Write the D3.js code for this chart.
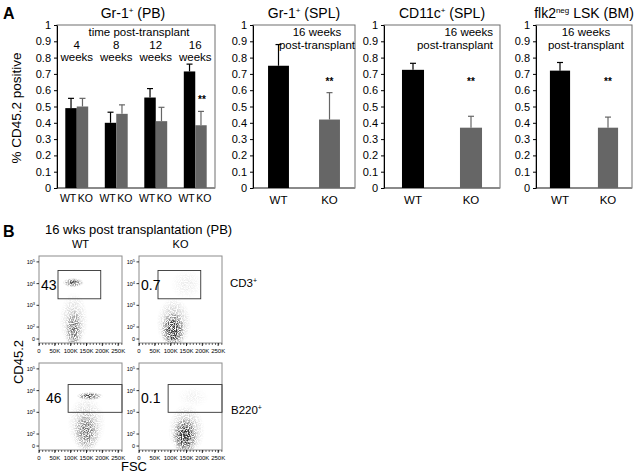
<!DOCTYPE html>
<html><head><meta charset="utf-8">
<script src="https://cdn.jsdelivr.net/npm/d3@7"></script>
<style>
body{margin:0;background:#fff}
svg text{font-family:"Liberation Sans",Arial,Helvetica,sans-serif;fill:#000}
</style>
</head><body>
<svg id="c" width="640" height="474" viewBox="0 0 640 474"></svg>
<script>
// ---------------- DATA ----------------
const genotypes = ["WT", "KO"];
const timepoints = ["4", "8", "12", "16"];
const pbWT = [0.49, 0.40, 0.555, 0.715];
const pbWTerr = [0.06, 0.065, 0.055, 0.045];
const pbKO = [0.50, 0.455, 0.41, 0.385];
const pbKOerr = [0.05, 0.055, 0.085, 0.085];
const pbSig = ["", "", "", "**"];
const splGrMeans = [0.75, 0.42];
const splGrErr = [0.13, 0.165];
const splCdMeans = [0.725, 0.37];
const splCdErr = [0.04, 0.07];
const bmLskMeans = [0.72, 0.37];
const bmLskErr = [0.05, 0.065];
const sigLabels = ["", "**"];
const yTicks = [0, 0.1, 0.2, 0.3, 0.4, 0.5, 0.6, 0.7, 0.8, 0.9, 1];

// flow cytometry panel
const flowCols = ["WT", "KO"];
const flowRows = ["CD3", "B220"];
const cd3Pct = ["43", "0.7"];
const b220Pct = ["46", "0.1"];
const gateCD3 = [60000, 195000, 2000, 40000];     // FSC min, FSC max, CD45.2 min, CD45.2 max
const gateB220 = [92000, 262143, 1000, 19000];
const fscTicks = [0, 50000, 100000, 150000, 200000, 250000];
const fscTickLabels = ["0", "50K", "100K", "150K", "200K", "250K"];
const cd45Ticks = [0, 100, 1000, 10000, 100000];
const cd45TickExp = ["", "2", "3", "4", "5"];
// event clouds: [FSC centre, CD45.2 centre, FSC spread, CD45.2 spread (decades), density]
const wtCD3Clouds = [[108000, 11000, 34000, 0.22, 0.75], [110000, 70, 28000, 0.95, 0.55], [110000, 200, 45000, 1.3, 0.22]];
const koCD3Clouds = [[108000, 70, 38000, 0.85, 0.95], [110000, 150, 55000, 1.2, 0.3], [150000, 9000, 50000, 0.7, 0.08]];
const wtB220Clouds = [[160000, 5600, 42000, 0.19, 0.8], [150000, 120, 42000, 0.95, 0.5], [150000, 300, 60000, 1.3, 0.22]];
const koB220Clouds = [[145000, 80, 40000, 0.85, 0.95], [150000, 150, 58000, 1.2, 0.3], [170000, 5000, 50000, 0.5, 0.06]];

// ---------------- DRAW ----------------
const svg = d3.select("#c");
const defs = svg.append("defs");

const BLACK = "#000", GREY = "#666";
const y = d3.scaleLinear().domain([0, 1]).range([188, 25]);
const fmt = d => String(+d.toFixed(1));

svg.append("text").attr("x", 3).attr("y", 19).style("font-size", "16px").style("font-weight", "bold").text("A");
svg.append("text").attr("transform", "translate(21,108) rotate(-90)").attr("text-anchor", "middle")
  .style("font-size", "13.5px").text("% CD45.2 positive");

function frame(l, r) {
  const g = svg.append("g");
  g.append("rect").attr("x", l).attr("y", y(1)).attr("width", r - l).attr("height", y(0) - y(1))
    .attr("fill", "none").attr("stroke", "#6e6e6e").attr("stroke-width", 1);
  g.append("line").attr("x1", l).attr("x2", r).attr("y1", y(0)).attr("y2", y(0))
    .attr("stroke", "#8a8a8a").attr("stroke-width", 2);
  const ax = g.append("g").attr("transform", `translate(${l},0)`)
    .call(d3.axisLeft(y).tickValues(yTicks).tickFormat(fmt).tickSize(3).tickSizeOuter(0));
  ax.select(".domain").attr("stroke", "#000");
  ax.selectAll("text").style("font-size", "11px").style("font-family", '"Liberation Sans",Arial,sans-serif').attr("x", -6);
  return g;
}
function title(cx, parts) {
  const t = svg.append("text").attr("x", cx).attr("y", 18).attr("text-anchor", "middle").style("font-size", "14px");
  parts.forEach(p => {
    const s = t.append("tspan").text(p[0]);
    if (p[1]) s.style("font-size", "8px").attr("dy", -5);
    else if (p[2]) s.attr("dy", 5);
  });
}
function errBar(g, cx, v, e, col) {
  g.append("line").attr("x1", cx).attr("x2", cx).attr("y1", y(v)).attr("y2", y(v + e)).attr("stroke", col).attr("stroke-width", 1.2);
  g.append("line").attr("x1", cx - 3).attr("x2", cx + 3).attr("y1", y(v + e)).attr("y2", y(v + e)).attr("stroke", col).attr("stroke-width", 1.2);
}

// ---- chart 1: Gr-1+ (PB) time course
{
  const l = 57, r = 215;
  const g = frame(l, r);
  const x0 = d3.scaleBand().domain(timepoints).range([l, r]).paddingInner(0.42).paddingOuter(0.21);
  const x1 = d3.scaleBand().domain(genotypes).range([0, x0.bandwidth()]);
  title((l + r) / 2 - 3, [["Gr-1"], ["+", true], [" (PB)", false, true]]);
  svg.append("text").attr("x", (l + r) / 2 + 3).attr("y", 36).attr("text-anchor", "middle").style("font-size", "11.5px").text("time post-transplant");
  timepoints.forEach((tp, i) => {
    const vals = [[pbWT[i], pbWTerr[i], BLACK], [pbKO[i], pbKOerr[i], GREY]];
    const gc = x0(tp) + x0.bandwidth() / 2;
    vals.forEach((d, j) => {
      const bx = x0(tp) + x1(genotypes[j]);
      g.append("rect").attr("x", bx).attr("width", x1.bandwidth()).attr("y", y(d[0])).attr("height", y(0) - y(d[0])).attr("fill", d[2]);
      errBar(g, bx + x1.bandwidth() / 2, d[0], d[1], d[2]);
      svg.append("text").attr("x", j === 0 ? gc - 0.5 : gc + 1).attr("y", 202)
        .attr("text-anchor", j === 0 ? "end" : "start").style("font-size", "10.5px").text(genotypes[j]);
    });
    svg.append("text").attr("x", gc).attr("y", 48.5).attr("text-anchor", "middle").style("font-size", "11.5px").text(tp);
    svg.append("text").attr("x", gc).attr("y", 60.5).attr("text-anchor", "middle").style("font-size", "11.5px").text("weeks");
    if (pbSig[i]) svg.append("text").attr("x", x0(tp) + x1("KO") + x1.bandwidth() / 2 + 1).attr("y", y(pbKO[i] + pbKOerr[i]) - 8)
      .attr("text-anchor", "middle").style("font-size", "10px").style("font-weight", "bold").style("fill", "#000").text(pbSig[i]);
  });
}

// ---- charts 2-4
function twoBar(l, r, pad, means, errs, titleParts, noteX, noteAnchor) {
  const g = frame(l, r);
  const x = d3.scaleBand().domain(genotypes).range([l, r]).paddingInner(pad).paddingOuter(pad / 2);
  title((l + r) / 2, titleParts);
  [["16 weeks", 36], ["post-transplant", 48.5]].forEach(t =>
    svg.append("text").attr("x", noteX).attr("y", t[1]).attr("text-anchor", noteAnchor).style("font-size", "11.5px").text(t[0]));
  genotypes.forEach((gt, j) => {
    const col = j === 0 ? BLACK : GREY;
    g.append("rect").attr("x", x(gt)).attr("width", x.bandwidth()).attr("y", y(means[j])).attr("height", y(0) - y(means[j])).attr("fill", col);
    const cx = x(gt) + x.bandwidth() / 2;
    errBar(g, cx, means[j], errs[j], col);
    svg.append("text").attr("x", cx).attr("y", 204).attr("text-anchor", "middle").style("font-size", "11.5px").text(gt);
    if (sigLabels[j]) svg.append("text").attr("x", cx).attr("y", 85).attr("text-anchor", "middle")
      .style("font-size", "10px").style("font-weight", "bold").text(sigLabels[j]);
  });
}
twoBar(253, 355, 0.59, splGrMeans, splGrErr, [["Gr-1"], ["+", true], [" (SPL)", false, true]], 317, "middle");
twoBar(384, 500, 0.62, splCdMeans, splCdErr, [["CD11c"], ["+", true], [" (SPL)", false, true]], 493, "end");
twoBar(536, 632, 0.58, bmLskMeans, bmLskErr, [["flk2"], ["neg", true], [" LSK (BM)", false, true]], 586, "middle");

// ---------------- PANEL B ----------------
svg.append("text").attr("x", 3).attr("y", 237).style("font-size", "16px").style("font-weight", "bold").text("B");
svg.append("text").attr("x", 45).attr("y", 234).style("font-size", "13px").text("16 wks post transplantation (PB)");
svg.append("text").attr("transform", "translate(23,362) rotate(-90)").attr("text-anchor", "middle").style("font-size", "13px").text("CD45.2");
svg.append("text").attr("x", 134).attr("y", 471).attr("text-anchor", "middle").style("font-size", "13px").text("FSC");

// grain filter: modulates smooth density with fine noise to give a dotted, scatter-like texture
const f = defs.append("filter").attr("id", "speckle").attr("filterUnits", "userSpaceOnUse")
  .attr("x", 0).attr("y", 200).attr("width", 640).attr("height", 274).attr("color-interpolation-filters", "sRGB");
f.append("feTurbulence").attr("type", "fractalNoise").attr("baseFrequency", 0.85).attr("numOctaves", 2).attr("seed", 11).attr("result", "noise");
f.append("feColorMatrix").attr("in", "noise").attr("type", "matrix")
  .attr("values", "0 0 0 0 0  0 0 0 0 0  0 0 0 0 0  3.2 0 0 0 -1.1").attr("result", "n");
f.append("feComposite").attr("in", "SourceAlpha").attr("in2", "n").attr("operator", "arithmetic")
  .attr("k1", 1.3).attr("k2", 0).attr("k3", 0).attr("k4", 0).attr("result", "m");
f.append("feFlood").attr("flood-color", "#333").attr("result", "c");
f.append("feComposite").attr("in", "c").attr("in2", "m").attr("operator", "in");

const linDec = 0.553;
const tf = v => v <= 100 ? (v / 100) * linDec : linDec + Math.log10(v / 100);
const colX = [[39, 122], [139, 222]];
const rowY = [[256, 343], [363, 450]];
const cloudSets = [[wtCD3Clouds, koCD3Clouds], [wtB220Clouds, koB220Clouds]];
const gates = [gateCD3, gateB220];
const pcts = [cd3Pct, b220Pct];
let gid = 0;

flowCols.forEach((c, ci) => {
  svg.append("text").attr("x", (colX[ci][0] + colX[ci][1]) / 2).attr("y", 248).attr("text-anchor", "middle").style("font-size", "11px").text(c);
});

flowRows.forEach((row, ri) => {
  flowCols.forEach((col, ci) => {
    const [l, r] = colX[ci], [t, b] = rowY[ri];
    const xs = d3.scaleLinear().domain([0, 262143]).range([l, r]);
    const yl = d3.scaleLinear().domain([tf(-33), tf(187000)]).range([b, t]);
    const ys = v => yl(tf(v));
    const g = svg.append("g");
    const clipId = "clip" + ri + ci;
    defs.append("clipPath").attr("id", clipId).append("rect").attr("x", l).attr("y", t).attr("width", r - l).attr("height", b - t);
    const cg = g.append("g").attr("clip-path", `url(#${clipId})`).append("g").attr("filter", "url(#speckle)");
    cloudSets[ri][ci].forEach(cl => {
      const id = "grad" + (gid++);
      const gr = defs.append("radialGradient").attr("id", id);
      [[0, 1], [0.3, 0.85], [0.6, 0.45], [0.85, 0.15], [1, 0]].forEach(s =>
        gr.append("stop").attr("offset", s[0]).attr("stop-color", "#000").attr("stop-opacity", s[1] * cl[4]));
      const cx = xs(cl[0]), cy = ys(cl[1]);
      const rx = xs(cl[0] + cl[2]) - cx;
      const ry = Math.abs(yl(tf(cl[1]) + cl[3]) - cy);
      cg.append("ellipse").attr("cx", cx).attr("cy", cy).attr("rx", rx).attr("ry", ry).attr("fill", `url(#${id})`);
    });
    // frame
    g.append("rect").attr("x", l).attr("y", t).attr("width", r - l).attr("height", b - t)
      .attr("fill", "none").attr("stroke", "#8c8c8c").attr("stroke-width", 1);
    // axes
    const xa = g.append("g").attr("transform", `translate(0,${b})`)
      .call(d3.axisBottom(xs).tickValues(d3.range(0, 262143, 10000)).tickSize(2).tickFormat(""));
    xa.select(".domain").remove();
    xa.selectAll("line").attr("stroke", "#000").attr("stroke-width", 0.6);
    fscTicks.forEach((v, i) => {
      g.append("line").attr("x1", xs(v)).attr("x2", xs(v)).attr("y1", b).attr("y2", b + 3).attr("stroke", "#000").attr("stroke-width", 0.8);
      g.append("text").attr("x", xs(v)).attr("y", b + 9.5).attr("text-anchor", "middle").style("font-size", "6px").text(fscTickLabels[i]);
    });
    cd45Ticks.forEach((v, i) => {
      g.append("line").attr("x1", l - 2.5).attr("x2", l).attr("y1", ys(v)).attr("y2", ys(v)).attr("stroke", "#000").attr("stroke-width", 0.8);
      const tx = g.append("text").attr("x", l - 4).attr("y", ys(v) + 2).attr("text-anchor", "end").style("font-size", "5.5px");
      if (cd45TickExp[i]) { tx.append("tspan").text("10"); tx.append("tspan").attr("dy", -2).style("font-size", "4px").text(cd45TickExp[i]); }
      else tx.text("0");
    });
    // gate
    const gt = gates[ri];
    g.append("rect").attr("x", xs(gt[0])).attr("y", ys(gt[3])).attr("width", xs(gt[1]) - xs(gt[0])).attr("height", ys(gt[2]) - ys(gt[3]))
      .attr("fill", "none").attr("stroke", "#333").attr("stroke-width", 0.9);
    g.append("text").attr("x", ci === 0 && ri === 1 ? l + 7 : l + 2).attr("y", (ys(gt[2]) + ys(gt[3])) / 2 + 5)
      .style("font-size", "14px").text(pcts[ri][ci]);
  });
  const lab = svg.append("text").attr("x", ri === 0 ? 230 : 231).attr("y", (rowY[ri][0] + rowY[ri][1]) / 2 + (ri === 0 ? -13 : 7)).style("font-size", "11.5px");
  lab.append("tspan").text(row);
  lab.append("tspan").attr("dy", -4).style("font-size", "7px").text("+");
});
</script>
</body></html>
